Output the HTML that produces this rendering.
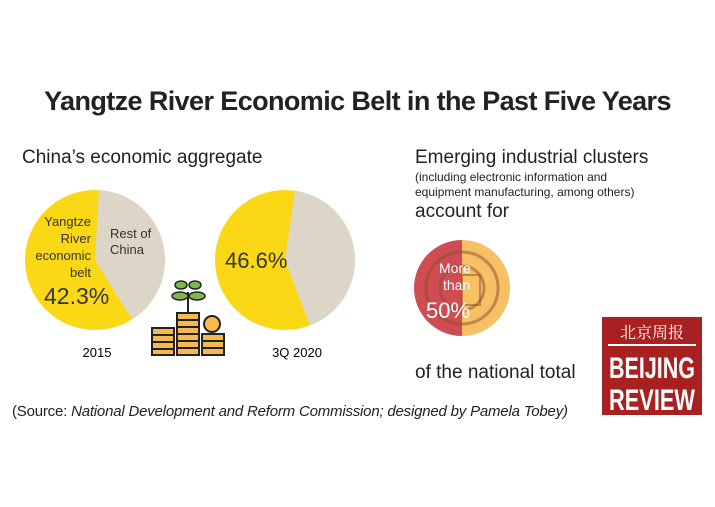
<!DOCTYPE html>
<html><head><style>
body{margin:0;width:715px;height:507px;background:#fff;position:relative;overflow:hidden;font-family:"Liberation Sans",sans-serif;color:#222}
.t{position:absolute;white-space:nowrap}
</style></head><body>
<div class="t" style="left:0;width:715px;text-align:center;top:86px;font-size:27px;font-weight:bold;letter-spacing:-0.6px">Yangtze River Economic Belt in the Past Five Years</div>
<div class="t" style="left:22px;top:147px;font-size:19px">China’s economic aggregate</div>
<div class="t" style="left:415px;top:147px;font-size:19px">Emerging industrial clusters</div>
<div class="t" style="left:415px;top:170px;font-size:12px;line-height:15px">(including electronic information and<br>equipment manufacturing, among others)</div>
<div class="t" style="left:415px;top:201px;font-size:19px">account for</div>
<div class="t" style="left:415px;top:362px;font-size:19px">of the national total</div>
<div class="t" style="left:12px;top:403px;font-size:15px;letter-spacing:-0.2px">(Source: <i>National Development and Reform Commission; designed by Pamela Tobey)</i></div>
<svg width="715" height="507" style="position:absolute;left:0;top:0">
<circle cx="95" cy="260" r="70" fill="#fbd816"/>
<path d="M95 260 L99 190.1 A70 70 0 0 1 132 319.4 Z" fill="#ddd5c8"/>
<circle cx="285" cy="260" r="70" fill="#fbd816"/>
<path d="M285 260 L295 190.7 A70 70 0 0 1 310 325.4 Z" fill="#ddd5c8"/>
<text x="97" y="357" font-size="13" text-anchor="middle" font-family="Liberation Sans">2015</text>
<text x="297" y="357" font-size="13" text-anchor="middle" font-family="Liberation Sans">3Q 2020</text>
<g font-family="Liberation Sans" font-size="13" fill="#333" text-anchor="end">
<text x="91" y="226">Yangtze</text><text x="91" y="243">River</text><text x="91" y="260">economic</text><text x="91" y="277">belt</text>
</g>
<g font-family="Liberation Sans" font-size="13" fill="#333">
<text x="110" y="238">Rest of</text><text x="110" y="254">China</text>
</g>
<text x="44" y="304" font-size="23" fill="#333" font-family="Liberation Sans">42.3%</text>
<text x="225" y="268" font-size="22" fill="#333" font-family="Liberation Sans">46.6%</text>
<!-- coins -->
<g stroke="#222" stroke-width="2" fill="#f5b94f">
<rect x="152" y="328" width="22" height="7"/><rect x="152" y="335" width="22" height="7"/><rect x="152" y="342" width="22" height="7"/><rect x="152" y="349" width="22" height="6"/>
<rect x="177" y="313" width="22" height="7"/><rect x="177" y="320" width="22" height="7"/><rect x="177" y="327" width="22" height="7"/><rect x="177" y="334" width="22" height="7"/><rect x="177" y="341" width="22" height="7"/><rect x="177" y="348" width="22" height="7"/>
<rect x="202" y="334" width="22" height="7"/><rect x="202" y="341" width="22" height="7"/><rect x="202" y="348" width="22" height="7"/>
<circle cx="212" cy="324" r="8"/>
</g>
<path d="M188 313 V292" stroke="#222" stroke-width="2"/>
<ellipse cx="180" cy="296" rx="8" ry="4" fill="#7cb84a" stroke="#222" stroke-width="1.5"/>
<ellipse cx="197" cy="296" rx="8" ry="4" fill="#7cb84a" stroke="#222" stroke-width="1.5"/>
<ellipse cx="181" cy="285" rx="6" ry="4" fill="#7cb84a" stroke="#222" stroke-width="1.5"/>
<ellipse cx="195" cy="285" rx="6" ry="4" fill="#7cb84a" stroke="#222" stroke-width="1.5"/>
<!-- gear -->
<path d="M462 240 A48 48 0 0 0 462 336 Z" fill="#cf4d52"/>
<path d="M462 240 A48 48 0 0 1 462 336 Z" fill="#f7c065"/>
<g fill="none" stroke="#8a4a2a" stroke-opacity="0.5" stroke-width="3">
<circle cx="462" cy="288" r="36"/><circle cx="462" cy="288" r="22"/>
</g>
<rect x="462" y="275" width="18" height="30" fill="none" stroke="#8a4a2a" stroke-opacity="0.5" stroke-width="2"/>
<text x="439" y="273" font-size="14" fill="#fff" font-family="Liberation Sans">More</text>
<text x="443" y="290" font-size="14" fill="#fff" font-family="Liberation Sans">than</text>
<text x="426" y="318" font-size="22" fill="#fff" font-family="Liberation Sans">50%</text>
<!-- logo -->
<rect x="602" y="317" width="100" height="98" fill="#a8201f"/>
<text x="652" y="338" font-size="16" fill="#fff" text-anchor="middle" font-family="Noto Serif CJK SC,serif">北京周报</text>
<rect x="608" y="344" width="88" height="2" fill="#fff"/>
<text x="652" y="378" font-size="30" font-weight="bold" fill="#fff" text-anchor="middle" font-family="Liberation Sans Narrow,Liberation Sans" textLength="86" lengthAdjust="spacingAndGlyphs">BEIJING</text>
<text x="652" y="410" font-size="30" font-weight="bold" fill="#fff" text-anchor="middle" font-family="Liberation Sans Narrow,Liberation Sans" textLength="86" lengthAdjust="spacingAndGlyphs">REVIEW</text>
</svg>
</body></html>
